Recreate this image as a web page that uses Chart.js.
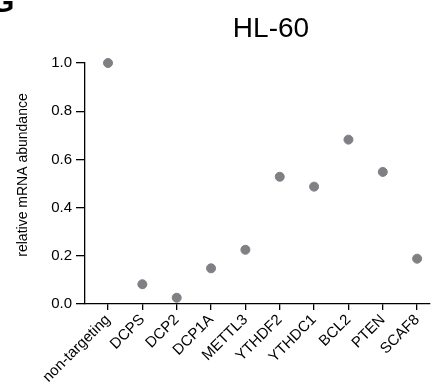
<!DOCTYPE html>
<html>
<head>
<meta charset="utf-8">
<script src="https://cdn.jsdelivr.net/npm/chart.js@4/dist/chart.umd.min.js"></script>
<style>
  html, body { margin: 0; padding: 0; background: #fff; }
  #wrap { width: 435px; height: 390px; }
</style>
</head>
<body>
<div id="wrap"><canvas id="myChart" width="435" height="390"></canvas></div>
<script>
// data
var genes = ['non-targeting', 'DCPS', 'DCP2', 'DCP1A', 'METTL3', 'YTHDF2', 'YTHDC1', 'BCL2', 'PTEN', 'SCAF8'];
var abundance = [1.0, 0.082, 0.026, 0.148, 0.225, 0.528, 0.487, 0.682, 0.548, 0.188];
var yTicks = [0.0, 0.2, 0.4, 0.6, 0.8, 1.0];

var chartTitle = 'HL-60';
var panelLetter = 'G';
var yTitle = 'relative mRNA abundance';

var font = '"Liberation Sans", Arial, Helvetica, sans-serif';

// title, panel letter and y title drawn by hand so they sit where the figure has them
var labelsPlugin = {
    id: 'labelsPlugin',
    afterDraw: function(chart) {
        var ctx = chart.ctx;
        ctx.save();
        ctx.fillStyle = '#000';
        ctx.textAlign = 'center';
        ctx.textBaseline = 'alphabetic';
        ctx.font = '28px ' + font;
        ctx.fillText(chartTitle, 271, 37);
        ctx.textAlign = 'left';
        ctx.font = 'bold 30px ' + font;
        ctx.fillText(panelLetter, -9, 12);

        ctx.translate(23, 175);
        ctx.rotate(-Math.PI / 2);
        ctx.textAlign = 'center';
        ctx.textBaseline = 'middle';
        ctx.font = '14px ' + font;
        ctx.fillText(yTitle, 0, 0);
        ctx.restore();
    }
};

var points = abundance.map(function(v, i) { return { x: i, y: v }; });

var ctx = document.getElementById('myChart').getContext('2d');
var chart = new Chart(ctx, {
    type: 'scatter',
    data: {
        datasets: [{
            data: points,
            backgroundColor: '#7f7f84',
            borderColor: '#7f7f84',
            pointRadius: 4.5,
            pointHoverRadius: 4.5,
            clip: false
        }]
    },
    options: {
        responsive: false,
        animation: false,
        events: [],
        layout: { padding: { top: 63, right: 0, left: 0, bottom: 0 } },
        plugins: {
            legend: { display: false },
            tooltip: { enabled: false }
        },
        scales: {
            x: {
                type: 'linear',
                min: -0.67,
                max: 9.36,
                afterBuildTicks: function(scale) {
                    scale.ticks = genes.map(function(g, i) { return { value: i }; });
                },
                afterFit: function(scale) { scale.height = 86; },
                border: { display: true, color: '#000', width: 1.3 },
                grid: {
                    drawOnChartArea: false,
                    drawTicks: true,
                    tickLength: 6,
                    color: '#000',
                    lineWidth: 1.3
                },
                ticks: {
                    autoSkip: false,
                    maxRotation: 45,
                    minRotation: 45,
                    padding: 1,
                    color: '#000',
                    font: { family: font, size: 15 },
                    callback: function(v) { return genes[v]; }
                }
            },
            y: {
                min: 0,
                max: 1,
                afterBuildTicks: function(scale) {
                    scale.ticks = yTicks.map(function(v) { return { value: v }; });
                },
                afterFit: function(scale) { scale.width = 85; },
                border: { display: true, color: '#000', width: 1.3 },
                grid: {
                    drawOnChartArea: false,
                    drawTicks: true,
                    tickLength: 9,
                    color: '#000',
                    lineWidth: 1.3
                },
                ticks: {
                    padding: 4,
                    color: '#000',
                    font: { family: font, size: 15 },
                    callback: function(v) { return v.toFixed(1); }
                }
            }
        }
    },
    plugins: [labelsPlugin]
});
</script>
</body>
</html>
